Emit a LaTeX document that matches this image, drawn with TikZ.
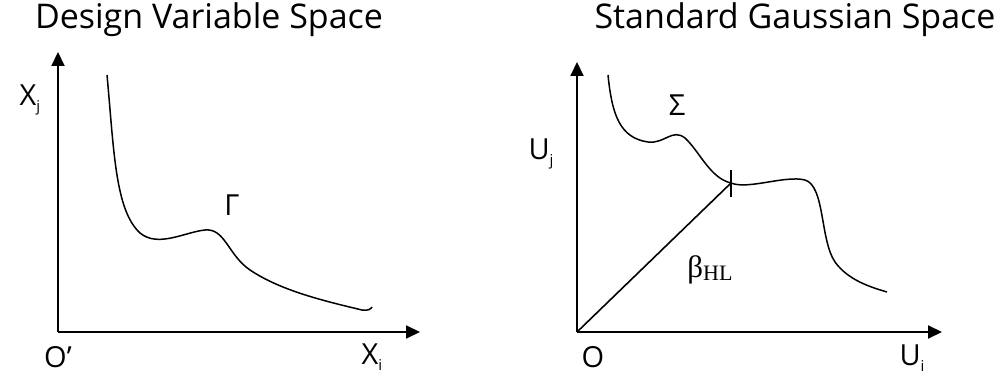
\documentclass[tikz,border=0pt]{standalone}
\usepackage{fontspec}
\setmainfont{Open Sans}
\newfontfamily\serifb{Liberation Serif}
\usetikzlibrary{arrows.meta}
\tikzset{
  axis/.style={line width=2pt,-{Triangle[length=14pt,width=13pt]}},
  curve/.style={line width=1.5pt},
  lab/.style={font=\fontsize{29}{30}\selectfont, inner sep=0pt},
  title/.style={font=\fontsize{34}{36}\selectfont, inner sep=0pt},
}
\begin{document}
\begin{tikzpicture}[x=1pt,y=-1pt]
\useasboundingbox (0,0) rectangle (1008,382);
% titles
\node[title] (t1) at (209,20) {Design Variable Space};
\node[title] (t2) at (795,20) {Standard Gaussian Space};
% left axes
\coordinate (o1) at (58,332);
\coordinate (y1) at (58,52);
\coordinate (x1) at (420,332);
\draw[axis] (o1) -- (y1);
\draw[axis] (o1) -- (x1);
\node[lab] (xj) at (30,100) {X\raisebox{-0.35ex}{\fontsize{15}{16}\selectfont j}};
\node[lab] (xi) at (372,357) {X\raisebox{-0.35ex}{\fontsize{15}{16}\selectfont i}};
\node[lab] (op) at (58,357) {O’};
\node[lab] (gam) at (232,205) {Γ};
\draw[curve] (107,75) .. controls (114,150) and (115,210) .. (140,233)
  .. controls (158,248) and (185,232) .. (205,230)
  .. controls (225,228) and (228,255) .. (250,270)
  .. controls (280,290) and (320,300) .. (362,310)
  .. controls (368,311) and (371,309) .. (372,307);
% right axes
\coordinate (o2) at (577,332);
\coordinate (y2) at (577,62);
\coordinate (x2) at (942,332);
\draw[axis] (o2) -- (y2);
\draw[axis] (o2) -- (x2);
\node[lab] (uj) at (541,154) {U\raisebox{-0.35ex}{\fontsize{15}{16}\selectfont j}};
\node[lab] (ui) at (912,358) {U\raisebox{-0.35ex}{\fontsize{15}{16}\selectfont i}};
\node[lab] (o) at (593,357) {O};
\node[lab] (sig) at (677,105) {Σ};
\node[inner sep=0pt, font=\serifb\fontsize{31}{32}\selectfont] (beta) at (710,270) {β\raisebox{-0.2ex}{\fontsize{22}{24}\selectfont HL}};
\coordinate (mpp) at (731,183);
\draw[curve] (608,75) .. controls (612,115) and (620,138) .. (648,142)
  .. controls (665,144) and (672,128) .. (685,138)
  .. controls (700,152) and (710,178) .. (mpp)
  .. controls (748,190) and (785,175) .. (805,180)
  .. controls (825,186) and (820,240) .. (835,262)
  .. controls (848,280) and (870,287) .. (887,292);
\draw[line width=1.6pt] (o2) -- (mpp);
\draw[line width=2.2pt] (731,170) -- (731,197);
\end{tikzpicture}
\end{document}
